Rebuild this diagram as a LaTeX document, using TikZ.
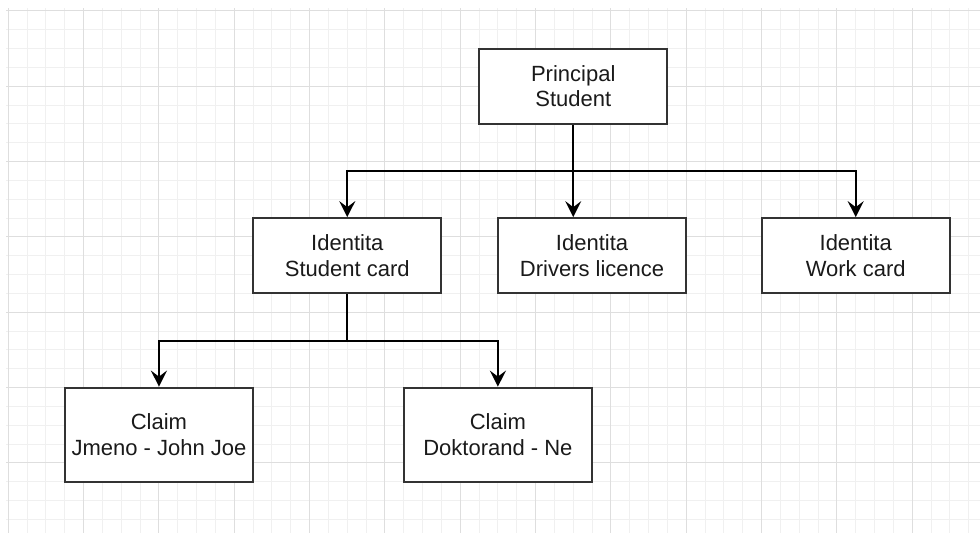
\documentclass[tikz,border=0pt]{standalone}
\usepackage{fontspec}
\setmainfont{Liberation Sans}
\usetikzlibrary{arrows.meta}

\definecolor{gridminor}{HTML}{F0F0F0}
\definecolor{gridmajor}{HTML}{DEDEDE}
\definecolor{boxline}{HTML}{333333}
\definecolor{labeltext}{HTML}{1A1A1A}

\begin{document}
\begin{tikzpicture}[
    x=18.83pt, y=-18.83pt,
    entity/.style={rectangle, draw=boxline, line width=2pt, fill=white, minimum width=188.3pt, minimum height=75.3pt, inner sep=0pt, align=center, text=labeltext, font=\fontsize{22}{25.5}\selectfont},
    claim/.style={entity, minimum height=94.15pt},
    link/.style={-{Stealth[length=16pt,width=16pt,inset=6pt]}, line width=2pt},
    minorline/.style={draw=gridminor, line width=1pt},
    majorline/.style={draw=gridmajor, line width=1pt}
  ]
    \useasboundingbox (-0.441,-0.584) rectangle (51.60,27.72);

    % background grid
    \foreach \i in {0,...,51} \draw[minorline] (\i,-0.15) -- (\i,27.72);
    \foreach \j in {0,...,27} \draw[minorline] (-0.1,\j) -- (51.60,\j);
    \foreach \i in {0,4,...,48} \draw[majorline] (\i,-0.15) -- (\i,27.72);
    \foreach \j in {0,4,...,24} \draw[majorline] (-0.1,\j) -- (51.60,\j);

    \node[entity] (principal) at (30,4) {Principal\\Student};

    \node[entity] (idCard) at (18,13) {Identita\\Student card};
    \node[entity] (idLicence) at (31,13) {Identita\\Drivers licence};
    \node[entity] (idWork) at (45,13) {Identita\\Work card};

    \node[claim] (claimName) at (8,22.5) {Claim\\Jmeno - John Joe};
    \node[claim] (claimPhd) at (26,22.5) {Claim\\Doktorand - Ne};

    \coordinate (topSplit) at (30,8.5);
    \coordinate (cardSplit) at (18,17.5);

    \draw[link] (principal.south) -- (principal.south |- idLicence.north);
    \draw[link] (topSplit) -| (idCard.north);
    \draw[link] (topSplit) -| (idWork.north);

    \draw[line width=2pt] (idCard.south) -- (cardSplit);
    \draw[link] (cardSplit) -| (claimName.north);
    \draw[link] (cardSplit) -| (claimPhd.north);
  \end{tikzpicture}
\end{document}
